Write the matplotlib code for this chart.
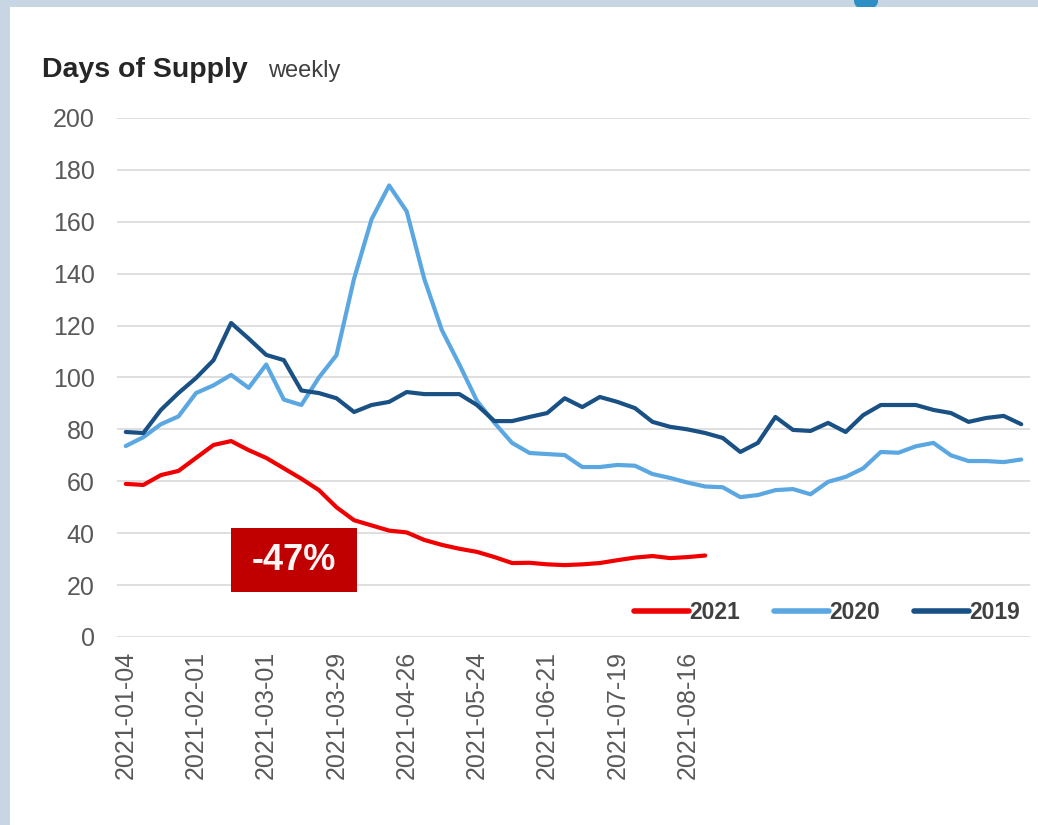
import matplotlib
matplotlib.use("Agg")
import matplotlib.pyplot as plt
from matplotlib.patches import Rectangle, Ellipse

plt.rcParams['font.family'] = ['Liberation Sans', 'DejaVu Sans']

# ---- data ----
tick_labels = ["2021-01-04", "2021-02-01", "2021-03-01", "2021-03-29", "2021-04-26",
               "2021-05-24", "2021-06-21", "2021-07-19", "2021-08-16"]
tick_every = 4

y2021 = [59, 58.6, 62.4, 64, 69, 74, 75.5, 72, 69, 65, 61, 56.6, 50, 45, 43, 41, 40.3,
         37.4, 35.5, 34, 32.8, 30.8, 28.5, 28.6, 28, 27.7, 28, 28.5, 29.6, 30.6, 31.2,
         30.4, 30.8, 31.4]
y2020 = [73.6, 77, 82, 85, 94, 97, 101, 96, 105, 91.5, 89.4, 100, 108.6, 138, 161, 174,
         164, 138, 118.3, 105, 91, 82.5, 74.8, 70.9, 70.5, 70.1, 65.5, 65.5, 66.3, 66,
         62.8, 61.3, 59.5, 58, 57.7, 53.9, 54.7, 56.6, 57, 55, 59.8, 61.7, 65, 71.3, 71,
         73.5, 74.8, 70, 67.8, 67.8, 67.4, 68.4]
y2019 = [79, 78.6, 87.5, 94, 99.8, 106.7, 121, 115, 108.7, 106.7, 95, 94, 92, 86.7, 89.4,
         90.6, 94.4, 93.6, 93.6, 93.6, 89.4, 83.2, 83.2, 84.8, 86.3, 92, 88.6, 92.5, 90.6,
         88.2, 82.9, 81, 80, 78.6, 76.7, 71.3, 74.8, 84.8, 79.8, 79.4, 82.5, 79, 85.5,
         89.4, 89.4, 89.4, 87.5, 86.3, 82.9, 84.4, 85.2, 82]
series_names = ["2021", "2020", "2019"]
series_colors = ["#f00000", "#5ba7e2", "#1a5185"]
annotation = "-47%"

# ---- figure ----
W, H = 1038, 825
fig = plt.figure(figsize=(W / 100, H / 100), dpi=100)
fig.patch.set_facecolor("#c8d6e4")

# fragment of a blue glyph peeking above the white panel
fig.patches.append(Ellipse((866 / W, 1 - 1 / H), 24 / W, 18 / H, transform=fig.transFigure,
                           facecolor="#2e8fc4", edgecolor="none", zorder=0))
fig.patches.append(Rectangle((10 / W, 0), 1, 1 - 7 / H, transform=fig.transFigure,
                             facecolor="white", edgecolor="none", zorder=1))

ax = fig.add_axes([117 / W, 1 - 637 / H, 913 / W, 519 / H])
ax.set_zorder(3)
ax.patch.set_alpha(0)

for name, vals, col in zip(series_names, [y2021, y2020, y2019], series_colors):
    ax.plot(range(len(vals)), vals, color=col, lw=3.0, solid_joinstyle="round",
            solid_capstyle="round", label=name, zorder=3)

n = len(y2019)
ax.set_xlim(-0.5, n - 0.5)
ax.set_ylim(0, 200)
ax.set_yticks(range(0, 201, 20))
ax.set_xticks([i * tick_every for i in range(len(tick_labels))])
ax.set_xticklabels(tick_labels, rotation=90, fontsize=18, color="#595959")
ax.tick_params(axis="y", labelsize=18, labelcolor="#595959", length=0, pad=16)
ax.tick_params(axis="x", length=0, pad=10)
ax.grid(axis="y", color="#dcdcdc", lw=1.3)
ax.set_axisbelow(True)
for s in ax.spines.values():
    s.set_visible(False)

# annotation box
ax.add_patch(Rectangle((0.1249, 0.0867), 0.138, 0.1233, transform=ax.transAxes,
                       facecolor="#c00000", edgecolor="none", zorder=4))
ax.text(0.1939, 0.148, annotation, transform=ax.transAxes, ha="center", va="center",
        color="#fff5f5", fontsize=26, fontweight="bold", zorder=5)

leg = ax.legend(loc="center right", bbox_to_anchor=(0.989, 0.048), ncol=3, frameon=False,
                handlelength=2.4, handletextpad=0.0, columnspacing=1.5,
                borderpad=0, borderaxespad=0,
                prop={"weight": "bold", "size": 16.5})
for t in leg.get_texts():
    t.set_color("#404040")
for h in leg.get_lines():
    h.set_linewidth(4)

# title
fig.text(42 / W, 1 - 70 / H, "Days of Supply", fontsize=20.5, fontweight="bold",
         color="#262626", ha="left", va="center")
fig.text(268 / W, 1 - 71 / H, "weekly", fontsize=17, color="#404040",
         ha="left", va="center")

fig.savefig("out.png", dpi=100, facecolor=fig.get_facecolor())
